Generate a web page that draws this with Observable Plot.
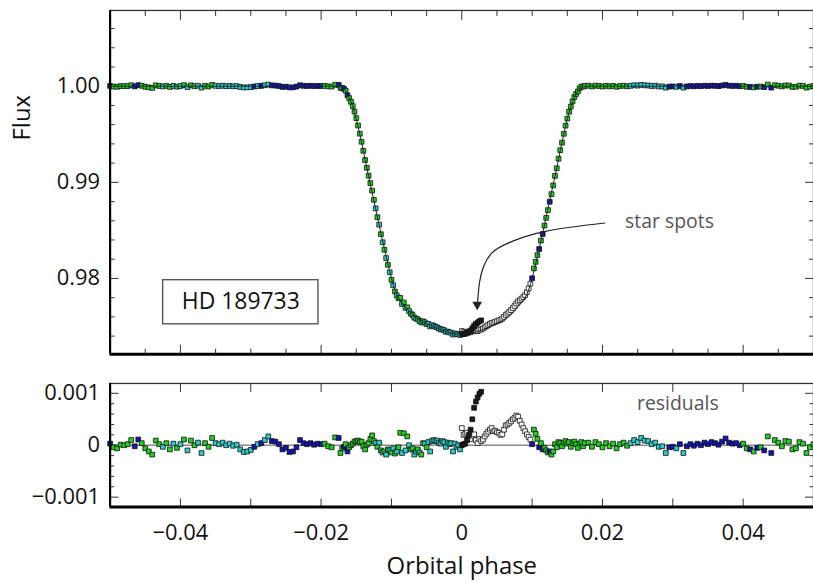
<!DOCTYPE html>
<html>
<head>
<meta charset="utf-8">
<script src="https://cdn.jsdelivr.net/npm/d3@7"></script>
<script src="https://cdn.jsdelivr.net/npm/@observablehq/plot@0.6"></script>
<style>
  html, body { margin: 0; padding: 0; background: #fff; overflow: hidden; }
  #wrap { position: relative; width: 813px; height: 585px; overflow: hidden; background: #fff; }
  #top { position: absolute; left: 0; top: 0; }
  #bot { position: absolute; left: 0; top: 373px; }
</style>
</head>
<body>
<div id="wrap"><div id="top"></div><div id="bot"></div></div>
<script>
// ---------- DATA ----------
// orbital phase of each binned measurement
const phase = [
  -0.05,-0.0495,-0.049,-0.0485,-0.048,-0.0475,-0.047,-0.0465,-0.046,-0.0455,
  -0.045,-0.0445,-0.044,-0.0435,-0.043,-0.0425,-0.042,-0.0415,-0.041,-0.0405,
  -0.04,-0.0395,-0.039,-0.0385,-0.038,-0.0375,-0.037,-0.0365,-0.036,-0.0355,
  -0.035,-0.0345,-0.034,-0.0335,-0.033,-0.0325,-0.032,-0.0315,-0.031,-0.0305,
  -0.03,-0.0295,-0.029,-0.0285,-0.028,-0.0275,-0.027,-0.0265,-0.026,-0.0255,
  -0.025,-0.0245,-0.024,-0.0235,-0.023,-0.0225,-0.022,-0.0215,-0.021,-0.0205,
  -0.02,-0.0195,-0.019,-0.0185,-0.018,
  -0.0175,-0.01725,-0.017,-0.01675,-0.0165,-0.01625,-0.016,-0.01575,-0.0155,-0.01525,
  -0.015,-0.01475,-0.0145,-0.01425,-0.014,-0.01375,-0.0135,-0.01325,-0.013,-0.01275,
  -0.0125,-0.01225,-0.012,-0.01175,-0.0115,-0.01125,-0.011,-0.01075,-0.0105,-0.01025,
  -0.01,-0.00975,-0.0095,-0.00925,-0.009,-0.00875,-0.0085,-0.00825,-0.008,-0.00775,
  -0.0075,-0.00725,-0.007,-0.00675,-0.0065,-0.00625,-0.006,-0.00575,-0.0055,-0.00525,
  -0.005,-0.00475,-0.0045,-0.00425,-0.004,-0.00375,-0.0035,-0.00325,-0.003,-0.00275,
  -0.0025,-0.00225,-0.002,-0.00175,-0.0015,-0.00125,-0.001,-0.00075,-0.0005,-0.00025,
  0,
  0.00025,0.0005,0.00075,0.001,0.00125,0.0015,0.00175,0.002,0.00225,0.0025,
  0.00275,0.003,0.00325,0.0035,0.00375,0.004,0.00425,0.0045,0.00475,0.005,
  0.00525,0.0055,0.00575,0.006,0.00625,0.0065,0.00675,0.007,0.00725,0.0075,
  0.00775,0.008,0.00825,0.0085,0.00875,0.009,0.00925,0.0095,0.00975,0.01,
  0.01025,0.0105,0.01075,0.011,0.01125,0.0115,0.01175,0.012,0.01225,0.0125,
  0.01275,0.013,0.01325,0.0135,0.01375,0.014,0.01425,0.0145,0.01475,0.015,
  0.01525,0.0155,0.01575,0.016,0.01625,0.0165,0.01675,0.017,0.01725,0.0175,
  0.018,0.0185,0.019,0.0195,0.02,0.0205,0.021,0.0215,0.022,0.0225,
  0.023,0.0235,0.024,0.0245,0.025,0.0255,0.026,0.0265,0.027,0.0275,
  0.028,0.0285,0.029,0.0295,0.03,0.0305,0.031,0.0315,0.032,0.0325,
  0.033,0.0335,0.034,0.0345,0.035,0.0355,0.036,0.0365,0.037,0.0375,
  0.038,0.0385,0.039,0.0395,0.04,0.0405,0.041,0.0415,0.042,0.0425,
  0.043,0.0435,0.044,0.0445,0.045,0.0455,0.046,0.0465,0.047,0.0475,
  0.048,0.0485,0.049,0.0495,0.05
];

// visit of each point: g = green, c = cyan, b = blue, o = open (spotted visit)
const visit = (
  "bggggggbbg" + "gggggcggcg" + "cgcggccggg" + "cccccccccc" + "cbcbccbbbb" + "bbbbbbbbbb" + "bgggg" +
  "bggbgbgggg" + "gggggggggg" + "gcgcgcgcgc" + "gcgcggcgcg" + "cggccgcggc" + "gccccccccc" + "cccccccccc" +
  "oooooooooo" + "oooooooooo" + "oooooooooo" + "oooooooooo" +
  "bgggbgbgggbg" + "ggggggggggggggggggg" +
  "gggggggggggg" + "ccccccccccc" + "bbcbc" + "bbbbbbbbbbbbbbbb" + "ggbgbgbgb" + "gggggggggggg"
).split("");

// residual of each point (units of 1e-5 in flux)
const residual = [
  3,-4,-6,1,0,2,10,-2,11,4,
  -6,-12,-18,9,2,-3,4,-8,3,-5,
  2,11,-10,9,0,5,-15,4,-3,14,
  4,2,5,0,3,-1,1,-8,-13,-12,
  -9,-3,2,4,10,17,8,7,2,-8,
  -5,-13,-12,-4,10,4,2,4,1,3,
  2,3,-2,-4,15,
  14,-15,-6,-3,2,-12,-4,0,3,7,
  8,9,6,7,-2,-8,1,4,12,19,
  8,4,-3,5,-10,-14,-12,-18,-8,-10,
  -14,-6,-16,-12,-4,24,-15,23,-10,17,
  0,-8,-6,-18,-12,-8,-14,-18,4,3,
  -4,6,-12,8,10,8,9,5,3,8,
  6,-3,5,2,4,-12,3,-3,0,-8,
  33,
  20,22,24,15,12,18,21,10,4,12,
  8,11,17,22,26,30,33,27,28,25,
  24,20,21,30,38,40,43,46,50,53,
  57,55,47,40,33,27,21,16,11,
  2,30,22,12,-4,4,-8,-5,-10,-14,
  -12,-18,-12,2,-4,6,4,-2,5,8,
  3,6,-3,4,7,2,-5,3,6,-2,4,
  5,-3,6,2,-4,4,-2,3,-6,2,5,-1,
  4,10,6,14,9,8,2,5,-3,-2,-15,
  -4,-3,-6,2,-15,
  -2,2,-1,3,0,5,2,6,4,1,7,13,5,3,4,0,
  3,-6,-8,-12,-5,-4,-10,17,-15,
  10,5,-2,8,7,-8,-6,6,3,-15,-4,2
];

// transit model flux vs |phase|, in steps of 0.00025 (0 .. 0.0175); 1 outside
const modelStep = 0.00025;
const modelHalf = [
  0.97420,0.97420,0.97421,0.97423,0.97425,0.97428,0.97432,0.97437,0.97442,0.97448,
  0.97455,0.97461,0.97467,0.97474,0.97482,0.97489,0.97497,0.97505,0.97513,0.97521,
  0.97530,0.97540,0.97550,0.97560,0.97570,0.97582,0.97595,0.97610,0.97625,0.97642,
  0.97661,0.97682,0.97705,0.97727,0.97750,0.97774,0.97800,0.97836,0.97880,0.97935,
  0.98000,0.98074,0.98150,0.98230,0.98310,0.98390,0.98470,0.98555,0.98640,0.98725,
  0.98810,0.98895,0.98980,0.99065,0.99150,0.99240,0.99330,0.99415,0.99500,0.99582,
  0.99660,0.99728,0.99790,0.99838,0.99880,0.99917,0.99950,0.99975,0.99990,0.99998,
  1.00000
];

// second spotted visit (black filled squares)
const spotPhase = [0,0.00025,0.0005,0.00075,0.001,0.00125,0.0015,0.00175,0.002,0.00225,0.0025,0.00275];
const spotResidual = [0,2,3,10,20,30,50,72,84,92,99,103];

// ticks
const xMajorTop = [-0.04,-0.02,0,0.02,0.04];
const xMinorTop = [-0.045,-0.035,-0.03,-0.025,-0.015,-0.01,-0.005,0.005,0.01,0.015,0.025,0.03,0.035,0.045];
const xTicksBottom = [-0.04,-0.03,-0.02,-0.01,0,0.01,0.02,0.03,0.04];
const xTickLabels = [-0.04,-0.02,0,0.02,0.04];
const yMajorTop = [0.98,0.99,1.00];
const yMinorTop = [0.974,0.976,0.978,0.982,0.984,0.986,0.988,0.992,0.994,0.996,0.998,1.002,1.004,1.006];
const yMajorRes = [-0.001,0,0.001];
const yMinorRes = [-0.0008,-0.0006,-0.0004,-0.0002,0.0002,0.0004,0.0006,0.0008];

// annotations (data coordinates)
const labelBox = [{x1: -0.04246, x2: -0.02038, y1: 0.97523, y2: 0.97982}];
const labelText = [{x: -0.03142, y: 0.97756, text: "HD 189733"}];
const spotLabel = [{x: 0.02321, y: 0.98591, text: "star spots"}];
const arrowPath = [
  {x: 0.02034, y: 0.98577}, {x: 0.01185, y: 0.98490}, {x: 0.00665, y: 0.98370},
  {x: 0.00429, y: 0.98266}, {x: 0.00311, y: 0.98127}, {x: 0.00251, y: 0.97955},
  {x: 0.00226, y: 0.97762}
];
const arrowHead = [{x: 0.00219, y: 0.97728}];
const residLabel = [{x: 0.03071, y: 0.00079, text: "residuals"}];

// ---------- BUILD ----------
(function () {
  const colorOf = {g: "#1fd01f", c: "#2dcccc", b: "#1414b8", o: "#ffffff", k: "#1a1a1a"};
  const modelAt = p => {
    const k = Math.round(Math.abs(p) / modelStep);
    return k < modelHalf.length ? modelHalf[k] : 1;
  };
  const rows = phase.map((p, i) => {
    const m = modelAt(p), r = residual[i] * 1e-5;
    return {phase: p, model: m, resid: r, flux: m + r, color: colorOf[visit[i]]};
  });
  const spots = spotPhase.map((p, i) => {
    const m = modelAt(p), r = spotResidual[i] * 1e-5;
    return {phase: p, model: m, resid: r, flux: m + r, color: colorOf.k};
  });

  const xDomain = [-0.05, 0.05];
  const yTop = [0.97212, 1.00788];
  const yRes = [-0.00119, 0.00119];
  const font = "'Open Sans', 'Noto Sans', sans-serif";
  const fmtX = d => d === 0 ? "0" : d3.format(".2f")(d);
  const fmtRes = d => d === 0 ? "0" : d3.format(".3f")(d);
  const none = () => "";

  const tickX = (anchor, ticks, size) =>
    Plot.axisX({anchor, ticks, tickSize: -size, tickFormat: none, label: null, stroke: "#333", strokeWidth: 1});
  const tickY = (anchor, ticks, size) =>
    Plot.axisY({anchor, ticks, tickSize: -size, tickFormat: none, label: null, stroke: "#333", strokeWidth: 1});

  const dotOpts = (ykey) => ({
    x: "phase", y: ykey, symbol: "square", r: 2.7,
    fill: "color", stroke: "#111", strokeWidth: 0.8
  });

  const topChart = Plot.plot({
    width: 816, height: 360,
    marginTop: 10, marginBottom: 5, marginLeft: 110, marginRight: 0,
    x: {domain: xDomain},
    y: {domain: yTop},
    color: {type: "identity"},
    style: {fontFamily: font, background: "white", color: "#111", overflow: "visible"},
    marks: [
      tickX("bottom", xMajorTop, 9), tickX("bottom", xMinorTop, 5),
      tickX("top", xMajorTop, 9), tickX("top", xMinorTop, 5),
      tickY("left", yMajorTop, 9), tickY("left", yMinorTop, 5),
      tickY("right", yMajorTop, 9), tickY("right", yMinorTop, 5),
      Plot.axisY({anchor: "left", ticks: yMajorTop, tickSize: 0, tickPadding: 10,
        tickFormat: d3.format(".2f"), fontSize: 22, label: null}),
      Plot.dot(rows, dotOpts("flux")),
      Plot.dot(spots, dotOpts("flux")),
      Plot.line(rows, {x: "phase", y: "model", stroke: "#222", strokeWidth: 1}),
      Plot.frame({stroke: "#333", strokeWidth: 1.3}),
      Plot.ruleX([xDomain[0]], {stroke: "#000", strokeWidth: 2.2}),
      Plot.ruleY([yTop[0]], {stroke: "#000", strokeWidth: 3}),
      Plot.rect(labelBox, {x1: "x1", x2: "x2", y1: "y1", y2: "y2", fill: "white", stroke: "#555", strokeWidth: 1.4}),
      Plot.text(labelText, {x: "x", y: "y", text: "text", fontSize: 23, fill: "#111"}),
      Plot.text(spotLabel, {x: "x", y: "y", text: "text", fontSize: 19.5, fill: "#555", textAnchor: "start"}),
      Plot.line(arrowPath, {x: "x", y: "y", curve: "natural", stroke: "#222", strokeWidth: 1.2}),
      Plot.dot(arrowHead, {x: "x", y: "y", symbol: "triangle", r: 3.6, rotate: 180, fill: "#222", stroke: "none"}),
      Plot.text(["Flux"], {frameAnchor: "left", dx: -88, dy: -42, rotate: -90, fontSize: 24, fill: "#111"})
    ]
  });
  document.getElementById("top").append(topChart);

  const botChart = Plot.plot({
    width: 816, height: 212,
    marginTop: 10, marginBottom: 78, marginLeft: 110, marginRight: 0,
    x: {domain: xDomain},
    y: {domain: yRes},
    color: {type: "identity"},
    style: {fontFamily: font, background: "white", color: "#111", overflow: "visible"},
    marks: [
      tickX("bottom", xTicksBottom, 8), tickX("top", xTicksBottom, 8),
      tickY("left", yMajorRes, 9), tickY("left", yMinorRes, 4.5),
      tickY("right", yMajorRes, 9), tickY("right", yMinorRes, 4.5),
      Plot.axisY({anchor: "left", ticks: yMajorRes, tickSize: 0, tickPadding: 10,
        tickFormat: fmtRes, fontSize: 22, label: null}),
      Plot.axisX({anchor: "bottom", ticks: xTickLabels, tickSize: 0, tickPadding: 17,
        tickFormat: fmtX, fontSize: 22, label: null}),
      Plot.ruleY([0], {stroke: "#8a8a8a", strokeWidth: 1.5}),
      Plot.dot(rows, dotOpts("resid")),
      Plot.dot(spots, dotOpts("resid")),
      Plot.frame({stroke: "#333", strokeWidth: 1.3}),
      Plot.ruleX([xDomain[0]], {stroke: "#000", strokeWidth: 2.2}),
      Plot.ruleY([yRes[0]], {stroke: "#000", strokeWidth: 3}),
      Plot.text(residLabel, {x: "x", y: "y", text: "text", fontSize: 19.5, fill: "#555"}),
      Plot.text(["Orbital phase"], {frameAnchor: "bottom", dy: 67, fontSize: 24, fill: "#111"})
    ]
  });
  document.getElementById("bot").append(botChart);
})();
</script>
</body>
</html>
